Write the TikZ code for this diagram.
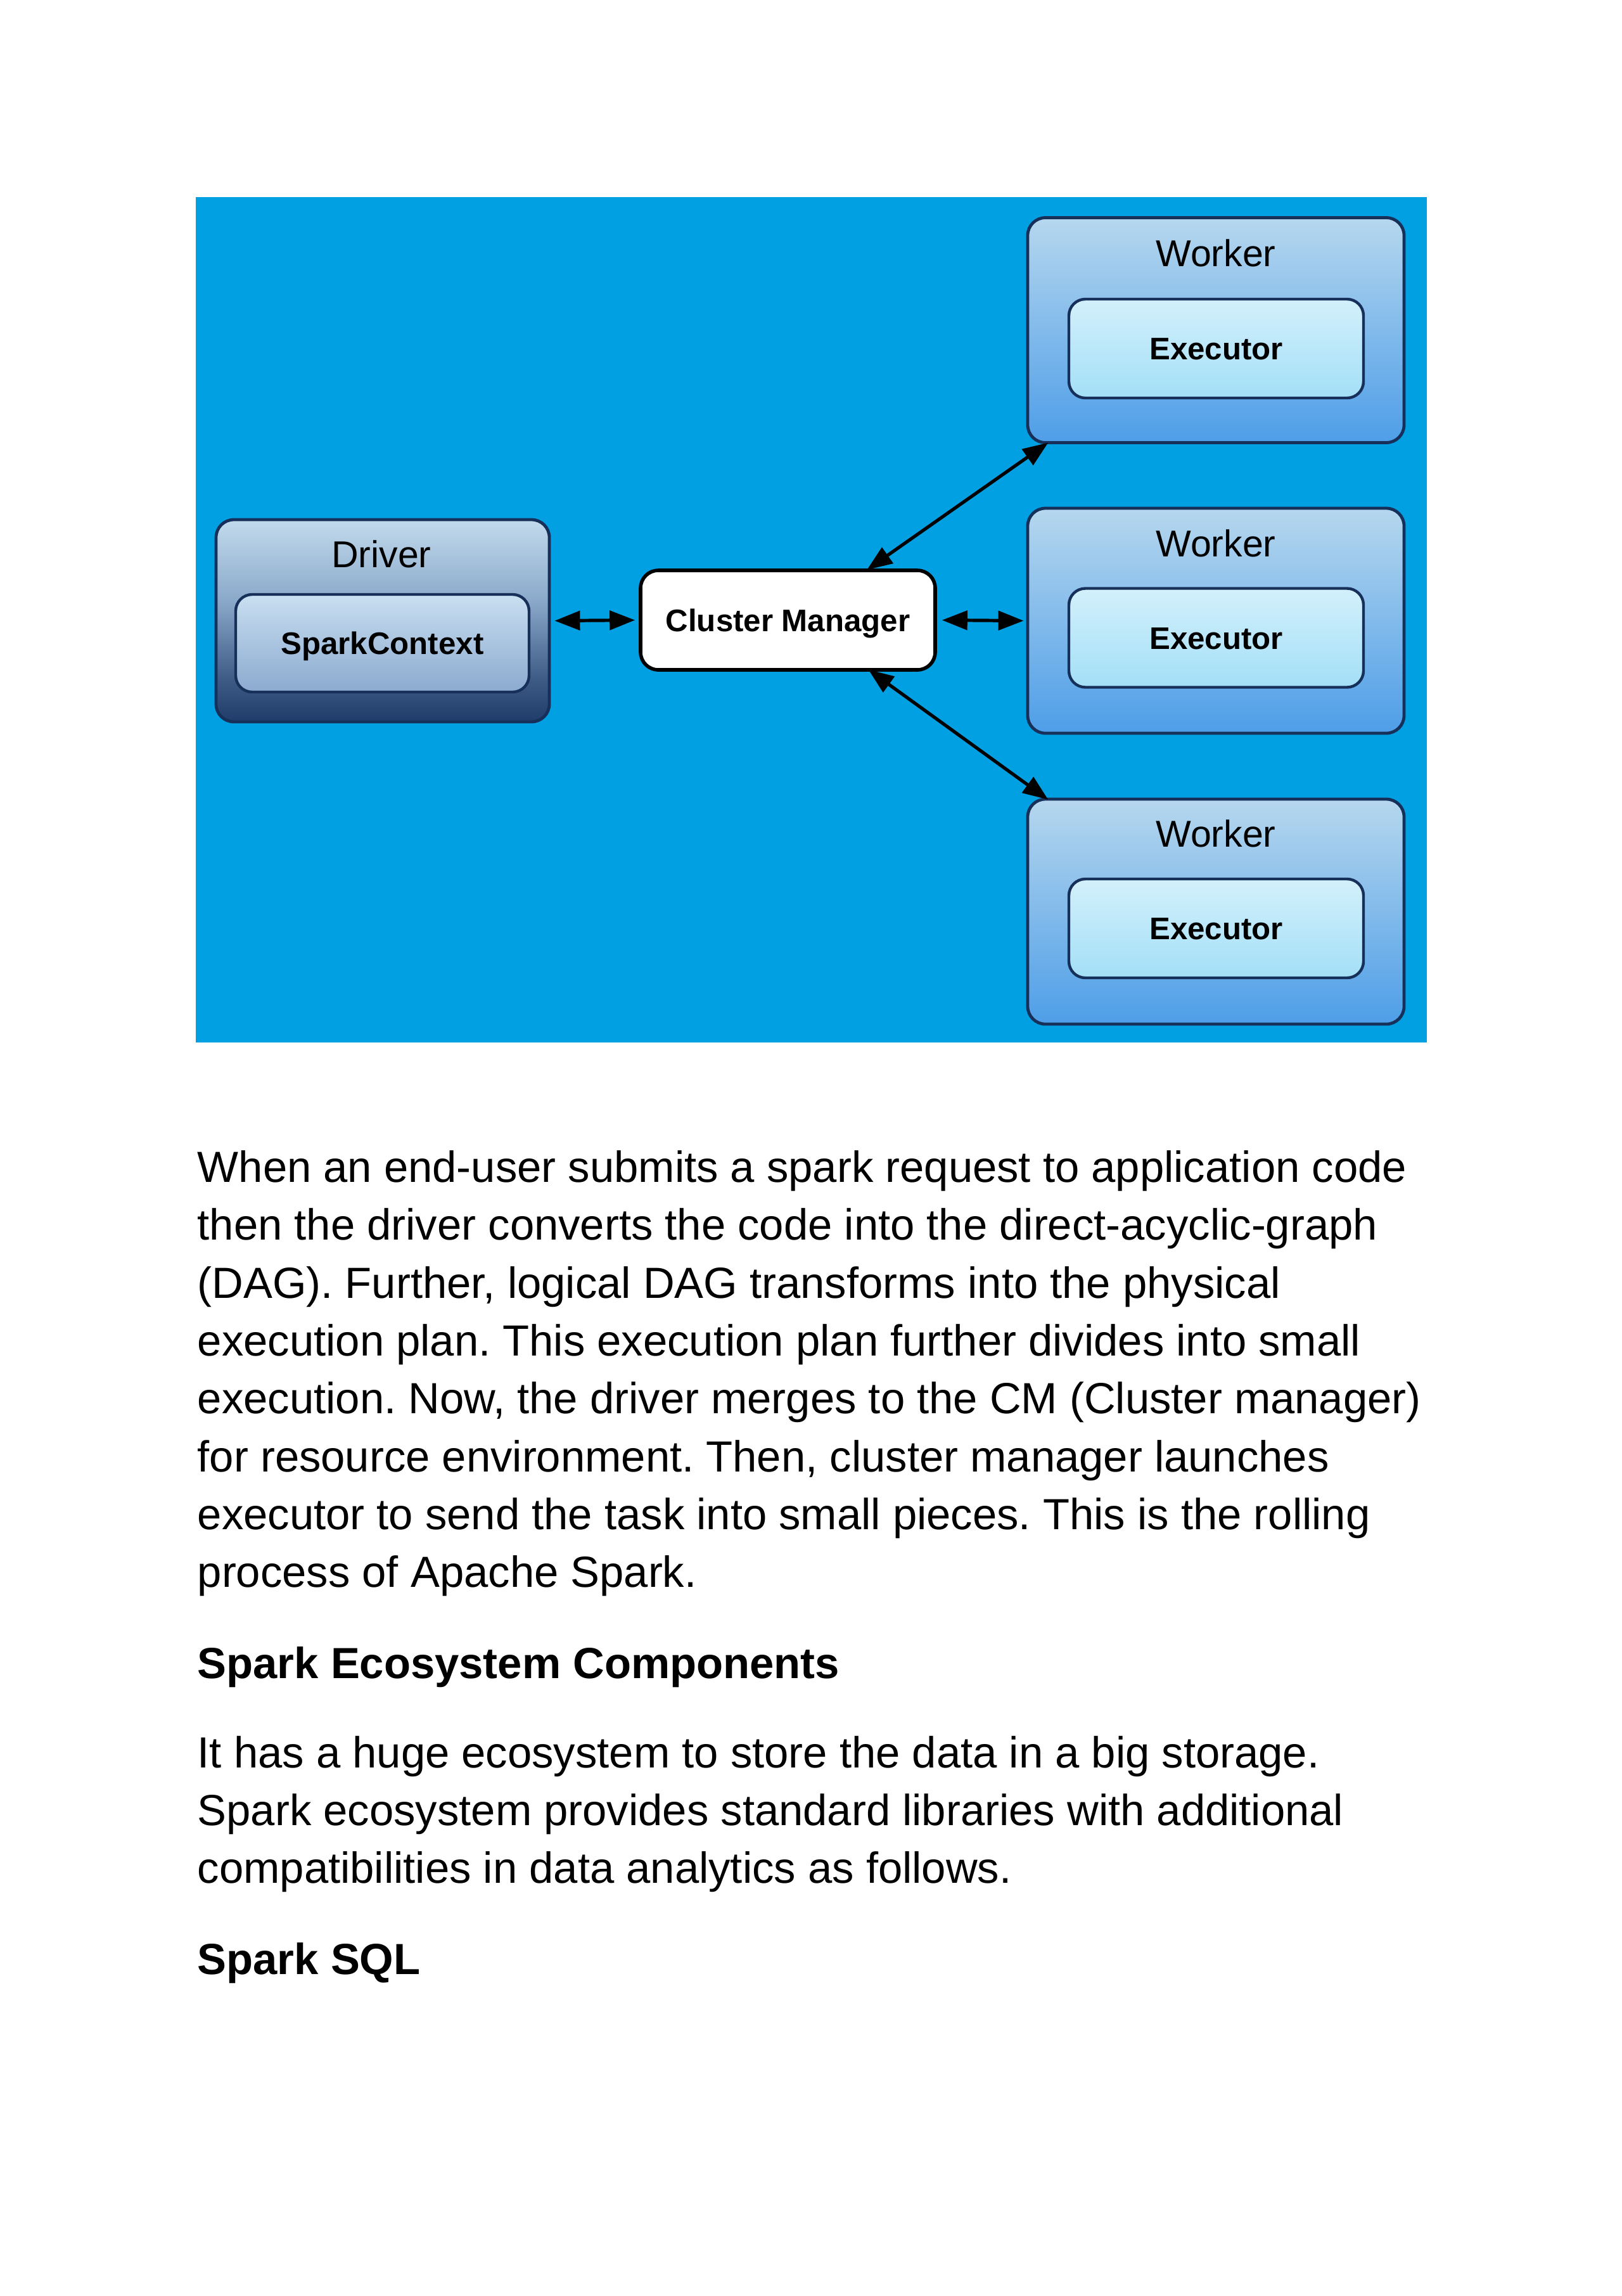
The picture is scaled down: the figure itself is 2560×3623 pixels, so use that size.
\documentclass[tikz,border=0pt]{standalone}
\usepackage{fontspec}
\setmainfont{Liberation Sans}
\usetikzlibrary{arrows.meta,calc}
\frenchspacing
\definecolor{bgblue}{HTML}{00A0E3}
\definecolor{edge}{HTML}{17305A}
\definecolor{wtop}{HTML}{B6D7EE}
\definecolor{wbot}{HTML}{4E9EE8}
\definecolor{etop}{HTML}{D3F0FB}
\definecolor{ebot}{HTML}{A3DFF7}
\definecolor{dtop}{HTML}{C2DAEC}
\definecolor{dmid}{HTML}{8AA9CA}
\definecolor{dbot}{HTML}{1F3C6A}
\definecolor{stop}{HTML}{C9DFF1}
\definecolor{sbot}{HTML}{8BAACF}
\pgfdeclareverticalshading{drvshade}{100bp}{color(0bp)=(dbot); color(25bp)=(dbot); color(36bp)=(dbot!70!dmid); color(55bp)=(dmid); color(75bp)=(dtop); color(100bp)=(dtop)}
\begin{document}
\begin{tikzpicture}[x=0.25pt,y=-0.25pt,
  outerbox/.style={draw=edge,line width=1.2pt,rounded corners=7pt,inner sep=0pt},
  workerbox/.style={outerbox,top color=wtop,bottom color=wbot,minimum width=148.5pt,minimum height=88.75pt},
  execbox/.style={draw=edge,line width=1.1pt,rounded corners=6.5pt,top color=etop,bottom color=ebot,
     minimum width=116.25pt,minimum height=39pt,font=\fontsize{12.3}{14}\selectfont\bfseries,text height=8.8pt,text depth=0pt},
  drvbox/.style={outerbox,shading=drvshade,minimum width=131.5pt,minimum height=79.75pt},
  scbox/.style={draw=edge,line width=1.1pt,rounded corners=6.5pt,top color=stop,bottom color=sbot,
     minimum width=115.75pt,minimum height=38.5pt,font=\fontsize{12.3}{14}\selectfont\bfseries,text height=8.8pt,text depth=0pt},
  cmbox/.style={draw=black,line width=1.4pt,rounded corners=7pt,fill=white,
     minimum width=116.25pt,minimum height=39.25pt,font=\fontsize{12.3}{14}\selectfont\bfseries,text height=8.8pt,text depth=0pt},
  biglabel/.style={font=\fontsize{14.75}{17}\selectfont,anchor=base,inner sep=0pt},
  link/.style={line width=1.3pt,black,{Triangle[length=10pt,width=7.5pt]}-{Triangle[length=10pt,width=7.5pt]}},
  body/.style={font=\fontsize{17.2}{22.8}\selectfont,anchor=base west,inner sep=0pt},
  head/.style={font=\fontsize{17.2}{22.8}\selectfont\bfseries,anchor=base west,inner sep=0pt}]
\useasboundingbox (0,0) rectangle (2560,3623);
\fill[white] (0,0) rectangle (2560,3623);
\fill[bgblue] (309,311) rectangle (2252,1645);

% workers
\node[workerbox] (w1) at (1919,521) {};
\node[workerbox] (w2) at (1919,979.5) {};
\node[workerbox] (w3) at (1919,1438.5) {};
\node[biglabel] (w1l) at (1919,420) {Worker};
\node[biglabel] (w2l) at (1919,878) {Worker};
\node[biglabel] (w3l) at (1919,1336) {Worker};
\node[execbox] (e1) at (1919.5,550) {Executor};
\node[execbox] (e2) at (1919.5,1006.5) {Executor};
\node[execbox] (e3) at (1919.5,1465) {Executor};

% driver
\node[drvbox] (drv) at (604,979.5) {};
\node[biglabel] (drvl) at (602,895) {Driver};
\node[scbox] (sc) at (603.5,1015) {SparkContext};

% cluster manager
\node[cmbox] (cm) at (1243.5,978.5) {Cluster Manager};

% connectors
\draw[link] ($(drv.east)+(1.5pt,0)$) -- ($(cm.west)+(-1.5pt,0)$);
\draw[link] ($(cm.east)+(2pt,0)$) -- ($(w2.west)+(-1pt,0)$);
\draw[link] ($(cm.north west)!0.765!(cm.north east)+(0,-0.5pt)$) -- ($(w1.south west)!0.058!(w1.south east)+(0,0.6pt)$);
\draw[link] ($(cm.south west)!0.77!(cm.south east)+(0,0.8pt)$) -- ($(w3.north west)!0.058!(w3.north east)+(0,-0.8pt)$);

% text
\node[body] (p1) at (311,1865) {When an end-user submits a spark request to application code};
\node[body] (p2) at (311,1956) {then the driver converts the code into the direct-acyclic-graph};
\node[body] (p3) at (311,2048) {(DAG). Further, logical DAG transforms into the physical};
\node[body] (p4) at (311,2139) {execution plan. This execution plan further divides into small};
\node[body] (p5) at (311,2230) {execution. Now, the driver merges to the CM (Cluster manager)};
\node[body] (p6) at (311,2322) {for resource environment. Then, cluster manager launches};
\node[body] (p7) at (311,2413) {executor to send the task into small pieces. This is the rolling};
\node[body] (p8) at (311,2504) {process of Apache Spark.};
\node[head] (h1) at (311,2648) {Spark Ecosystem Components};
\node[body] (q1) at (311,2789) {It has a huge ecosystem to store the data in a big storage.};
\node[body] (q2) at (311,2880) {Spark ecosystem provides standard libraries with additional};
\node[body] (q3) at (311,2971) {compatibilities in data analytics as follows.};
\node[head] (h2) at (311,3115) {Spark SQL};
\end{tikzpicture}
\end{document}
